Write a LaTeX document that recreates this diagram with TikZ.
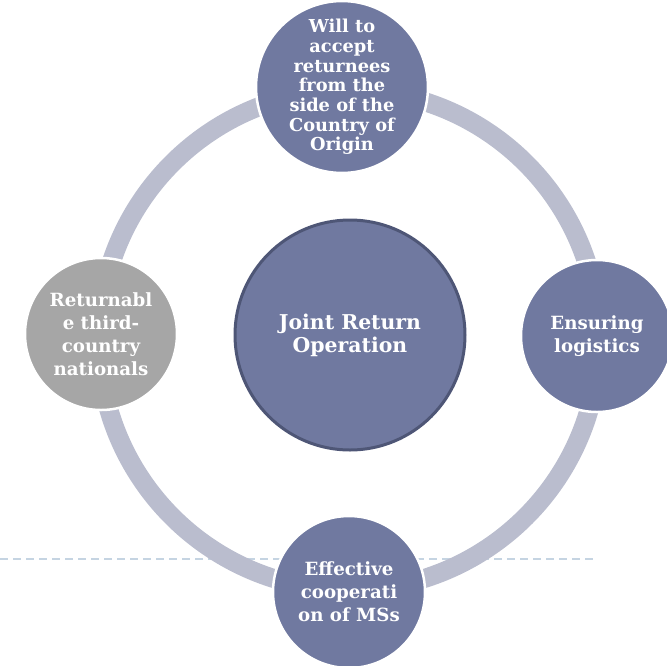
\documentclass[tikz,border=0pt]{standalone}
\usepackage{fontspec}
\setmainfont{DejaVu Serif}
\definecolor{nodefill}{RGB}{112,121,160}
\definecolor{ringc}{RGB}{186,189,206}
\definecolor{grayfill}{RGB}{166,166,166}
\definecolor{centerborder}{RGB}{78,86,118}
\definecolor{dashc}{RGB}{197,212,226}
\tikzset{
  sat/.style={circle, fill=nodefill, draw=white, line width=2.5pt, minimum size=152pt, inner sep=0pt,
    text=white, font=\bfseries\fontsize{18.2}{23}\selectfont, align=center},
  hub/.style={circle, fill=nodefill, draw=centerborder, line width=3pt, minimum size=230pt, inner sep=0pt,
    text=white, font=\bfseries\fontsize{20.4}{23}\selectfont, align=center},
  ring/.style={draw=ringc, line width=19pt},
  guide/.style={draw=dashc, line width=2pt, dash pattern=on 8pt off 5pt}
}
\begin{document}
\begin{tikzpicture}[x=1pt,y=-1pt]
\useasboundingbox (0,0) rectangle (667,665);
\coordinate (gl) at (0,559);
\coordinate (gr) at (596,559);
\draw[guide] (gl) -- (gr);
\coordinate (rc) at (349,340);
\draw[ring] (rc) circle[radius=250pt];
\node[hub] (hub) at (350,335) {Joint Return\\Operation};
\node[sat, minimum size=148pt, font=\bfseries\fontsize{17.8}{19.7}\selectfont] (top) at (342,87) {Will to\\accept\\returnees\\from the\\side of the\\Country of\\Origin};
\node[sat] (right) at (597,336) {Ensuring\\logistics};
\node[sat] (bottom) at (349,592) {Effective\\cooperati\\on of MSs};
\node[sat, fill=grayfill] (left) at (101,334) {Returnabl\\e third-\\country\\nationals};
\end{tikzpicture}
\end{document}
